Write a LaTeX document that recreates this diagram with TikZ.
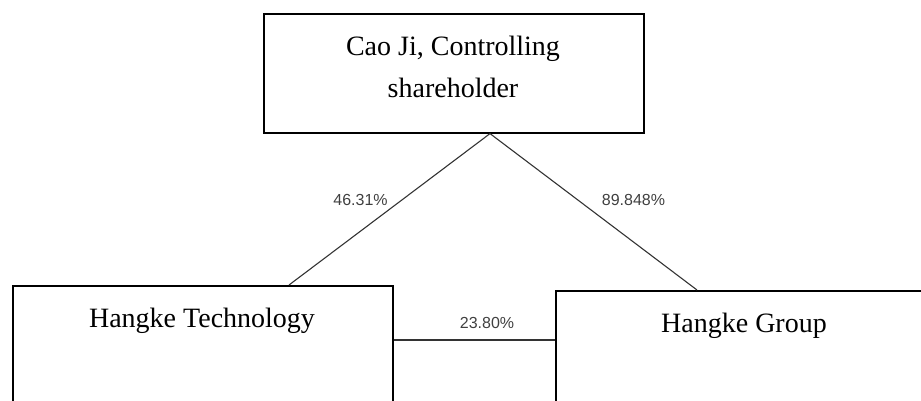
\documentclass[tikz,border=0pt]{standalone}
\usepackage{fontspec}
\setmainfont{Liberation Serif}
\newfontfamily\lblfont{Liberation Sans}
\usetikzlibrary{calc}
\tikzset{
  x=1pt, y=1pt,
  boxnode/.style={draw=black, line width=1.6pt, rectangle, inner sep=0pt, anchor=north west},
  boxtext/.style={font=\fontsize{28}{42}\selectfont, inner sep=0pt, align=center, anchor=base},
  conn/.style={draw=black!80, line width=1.1pt},
  pct/.style={font=\lblfont\fontsize{16}{19}\selectfont, text=black!75, inner sep=0pt, anchor=base}
}
\begin{document}
\begin{tikzpicture}
\useasboundingbox (0,0) rectangle (921,-400);
% boxes
\node[boxnode, minimum width=380pt, minimum height=119pt] (cao) at (263,-13) {};
\node[boxnode, minimum width=380pt, minimum height=140pt] (tech) at (12,-285) {};
\node[boxnode, minimum width=430pt, minimum height=140pt] (group) at (555,-290) {};
% texts
\node[boxtext] (caotext) at (453,-97) {Cao Ji, Controlling\\shareholder};
\node[boxtext] (techtext) at (202,-327) {Hangke Technology};
\node[boxtext] (grouptext) at (744,-332) {Hangke Group};
% connectors
\coordinate (apex) at ($(cao.south west)+(227,0)$);
\draw[conn] (apex) -- ($(tech.north west)+(277,0)$);
\draw[conn] (apex) -- ($(group.north west)+(142,0)$);
\draw[conn] ($(tech.north east)+(0,-55)$) -- ($(group.north west)+(0,-50)$);
% labels
\node[pct] (l1) at (360.5,-205) {46.31\%};
\node[pct] (l2) at (633.5,-205) {89.848\%};
\node[pct] (l3) at (487,-328) {23.80\%};
\end{tikzpicture}
\end{document}
